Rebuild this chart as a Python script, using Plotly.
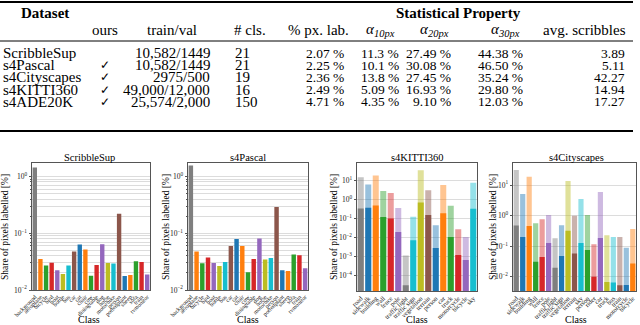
import plotly.graph_objects as go

W, H = 640, 325
def px(x): return x / W
def py(y): return 1 - y / H

SERIF = "Liberation Serif, DejaVu Serif, serif"

# ---------------- table data ----------------
datasets = ["ScribbleSup", "s4Pascal", "s4Cityscapes", "s4KITTI360", "s4ADE20K"]
ours = ["", "✓", "✓", "✓", "✓"]
train_val = ["10,582/1449", "10,582/1449", "2975/500", "49,000/12,000", "25,574/2,000"]
n_cls = ["21", "21", "19", "16", "150"]
px_lab = ["2.07 %", "2.25 %", "2.36 %", "2.49 %", "4.71 %"]
alpha10 = ["11.3 %", "10.1 %", "13.8 %", "5.09 %", "4.35 %"]
alpha20 = ["27.49 %", "30.08 %", "27.45 %", "16.93 %", "9.10 %"]
alpha30 = ["44.38 %", "46.50 %", "35.24 %", "29.80 %", "12.03 %"]
avg_scribbles = ["3.89", "5.11", "42.27", "14.94", "17.27"]

# ---------------- chart data ----------------
voc_classes = ["background", "aeroplane", "bicycle", "bird", "boat", "bottle", "bus", "car",
               "cat", "chair", "cow", "diningtable", "dog", "horse", "motorbike", "person",
               "pottedplant", "sheep", "sofa", "train", "tvmonitor"]
scribblesup_share = [1.44, 0.0352, 0.0269, 0.0303, 0.0222, 0.0192, 0.0269, 0.0475,
                     0.063, 0.0515, 0.0179, 0.0276, 0.064, 0.0299, 0.0292, 0.219,
                     0.0177, 0.0184, 0.032, 0.0312, 0.0187]
s4pascal_share = [1.56, 0.0475, 0.0295, 0.0372, 0.030, 0.0265, 0.0312, 0.0598,
                  0.0794, 0.0598, 0.0205, 0.0352, 0.0805, 0.0343, 0.0367, 0.288,
                  0.0222, 0.0216, 0.042, 0.041, 0.0241]

kitti_classes = ["road", "sidewalk", "building", "wall", "fence", "pole", "traffic light",
                 "traffic sign", "vegetation", "terrain", "person", "car", "truck",
                 "motorcycle", "bicycle", "sky"]
kitti_dense = [15.5, 6.4, 19.0, 2.85, 2.23, 0.36, 0.0011, 0.126, 36.5, 3.2, 0.044, 5.9,
               0.48, 0.027, 0.0106, 7.8]
kitti_scribble = [0.346, 0.375, 0.498, 0.12, 0.102, 0.0195, 0.00003, 0.0071, 0.72, 0.154,
                  0.0028, 0.19, 0.0106, 0.00119, 0.00065, 0.33]

city_classes = ["road", "sidewalk", "building", "wall", "fence", "pole", "traffic light",
                "traffic sign", "vegetation", "terrain", "sky", "person", "rider", "car",
                "truck", "bus", "train", "motorcycle", "bicycle"]
city_dense = [31.0, 5.1, 18.7, 0.557, 0.753, 1.04, 0.18, 0.48, 13.5, 0.99, 3.5, 1.04,
              0.115, 5.9, 0.225, 0.2, 0.2, 0.089, 0.36]
city_scribble = [0.47, 0.2, 0.456, 0.031, 0.044, 0.126, 0.0197, 0.0475, 0.32, 0.057,
                 0.126, 0.075, 0.01, 0.185, 0.0067, 0.0064, 0.0052, 0.0053, 0.0267]

gray, blue, orange, green, red = "#7f7f7f", "#1f77b4", "#ff7f0e", "#2ca02c", "#d62728"
purple, brown, olive, cyan = "#9467bd", "#8c564b", "#bcbd22", "#17becf"

voc_colors = [gray, orange, green, red, purple, olive, cyan, brown, blue, orange, green,
              red, purple, olive, cyan, brown, blue, orange, green, red, purple]
kitti_colors = [gray, blue, orange, green, red, purple, gray, cyan, olive, brown, blue,
                orange, green, red, purple, cyan]
city_colors = [gray, blue, orange, green, red, purple, gray, blue, olive, brown, cyan,
               green, red, purple, olive, cyan, brown, blue, orange]

fig = go.Figure()

# --- bars ---
fig.add_trace(go.Bar(x=voc_classes, y=scribblesup_share, marker_color=voc_colors,
                     marker_line_width=0, width=0.78, xaxis="x", yaxis="y"))
fig.add_trace(go.Bar(x=voc_classes, y=s4pascal_share, marker_color=voc_colors,
                     marker_line_width=0, width=0.78, xaxis="x2", yaxis="y2"))
fig.add_trace(go.Bar(x=kitti_classes, y=kitti_dense, marker_color=kitti_colors, opacity=0.45,
                     marker_line_width=0, width=0.8, xaxis="x3", yaxis="y3"))
fig.add_trace(go.Bar(x=kitti_classes, y=kitti_scribble, marker_color=kitti_colors,
                     marker_line_width=0, width=0.8, xaxis="x3", yaxis="y3"))
fig.add_trace(go.Bar(x=city_classes, y=city_dense, marker_color=city_colors, opacity=0.45,
                     marker_line_width=0, width=0.8, xaxis="x4", yaxis="y4"))
fig.add_trace(go.Bar(x=city_classes, y=city_scribble, marker_color=city_colors,
                     marker_line_width=0, width=0.8, xaxis="x4", yaxis="y4"))

def majors(lo, hi):
    vals = [10.0 ** e for e in range(lo, hi + 1)]
    txt = ["10<sup>%s</sup>" % str(e).replace("-", "−") for e in range(lo, hi + 1)]
    return vals, txt

def minors(lo, hi):
    return [m * 10.0 ** e for e in range(lo, hi) for m in range(2, 10)]

frame = dict(showline=True, mirror=True, linecolor="#555555", linewidth=1, zeroline=False,
             automargin=False)

def xax(x0, x1, fs, cats, anchor):
    return dict(domain=[px(x0), px(x1)], tickangle=-45, type="category",
                tickmode="array", tickvals=cats, ticktext=cats, anchor=anchor,
                tickfont=dict(family=SERIF, size=fs, color="#222"), showgrid=False,
                ticks="", **frame)

def yax(y0, y1, rng, lo, hi, anchor, minor_grid):
    tv, tt = majors(lo, hi)
    d = dict(domain=[py(y1), py(y0)], type="log", range=rng, tickmode="array",
             tickvals=tv, ticktext=tt,
             showgrid=True, gridcolor="#dcdcdc", gridwidth=1, ticks="outside", ticklen=2.5,
             tickcolor="#555", tickfont=dict(family=SERIF, size=7.5, color="#222"),
             anchor=anchor, **frame)
    if minor_grid:
        d["minor"] = dict(tickmode="array", tickvals=minors(lo, hi + 1), showgrid=True,
                          gridcolor="#dcdcdc", gridwidth=1, ticks="outside", ticklen=1.5,
                          tickcolor="#555")
    return d

fig.update_layout(
    width=W, height=H, margin=dict(l=0, r=0, t=0, b=0, autoexpand=False),
    paper_bgcolor="white", plot_bgcolor="white", showlegend=False, barmode="overlay",
    xaxis=xax(32, 150, 6, voc_classes, "y"),
    yaxis=yax(163, 290, [-2, 0.236], -2, 0, "x", True),
    xaxis2=xax(188, 308, 6, voc_classes, "y2"),
    yaxis2=yax(163, 290, [-2, 0.236], -2, 0, "x2", True),
    xaxis3=xax(357, 477, 6.5, kitti_classes, "y3"),
    yaxis3=yax(163, 291, [-4.83, 1.94], -4, 1, "x3", False),
    xaxis4=xax(513, 636, 6.5, city_classes, "y4"),
    yaxis4=yax(163, 291, [-2.47, 1.72], -2, 1, "x4", False),
)

ann = []
def text(x, y, s, size=15, anchor="center", bold=False, angle=0, color="black"):
    if bold:
        s = "<b>%s</b>" % s
    ann.append(dict(x=px(x), y=py(y), xref="paper", yref="paper", text=s, showarrow=False,
                    xanchor=anchor, yanchor="middle", textangle=angle,
                    font=dict(family=SERIF, size=size, color=color)))

# --- table header ---
text(45, 13, "Dataset", bold=True)
text(458, 13, "Statistical Property", bold=True)
hy = 30
text(105, hy, "ours")
text(172, hy, "train/val")
text(232, hy, "# cls.", anchor="left")
text(318, hy, "% px. lab.")
text(380, hy, "<i>α</i><sub><i>10px</i></sub>")
text(434, hy, "<i>α</i><sub><i>20px</i></sub>")
text(505, hy, "<i>α</i><sub><i>30px</i></sub>")
text(628, hy, "avg. scribbles", anchor="right")

row_y = [53, 65.2, 77.4, 89.6, 101.8]
for i, ry in enumerate(row_y):
    text(1, ry, datasets[i], anchor="left")
    if ours[i]:
        text(105, ry, ours[i], size=12)
    text(212, ry, train_val[i], anchor="right")
    text(233, ry, n_cls[i], anchor="left")
    text(346, ry, px_lab[i], anchor="right", size=13.5)
    text(380, ry, alpha10[i], size=13.5)
    text(453, ry, alpha20[i], anchor="right", size=13.5)
    text(500, ry, alpha30[i], size=13.5)
    text(627, ry, avg_scribbles[i], anchor="right", size=13.5)

# --- chart labels ---
titles = [("ScribbleSup", 89), ("s4Pascal", 248), ("s4KITTI360", 417), ("s4Cityscapes", 576)]
for t, cx in titles:
    text(cx, 157, t, size=10.5)
    text(cx, 319, "Class", size=10)
for yx in [5, 166, 334, 493]:
    text(yx, 227, "Share of pixels labelled [%]", size=9.5, angle=-90)

fig.update_layout(annotations=ann)

# --- booktabs rules ---
shapes = []
for y, w in [(2, 2), (41, 1), (131, 2)]:
    shapes.append(dict(type="line", xref="paper", yref="paper", x0=0, x1=px(633),
                       y0=py(y), y1=py(y), line=dict(color="black", width=w)))
fig.update_layout(shapes=shapes)

fig.write_html("out.html", config={"displayModeBar": False},
               post_script="document.body.style.margin='0';document.body.style.overflow='hidden';")
